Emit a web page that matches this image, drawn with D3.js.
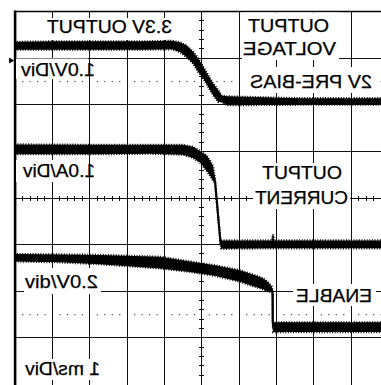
<!DOCTYPE html>
<html>
<head>
<meta charset="utf-8">
<script src="https://cdn.jsdelivr.net/npm/d3@7"></script>
<style>
    body { margin: 0; background: #fff; }
    svg { display: block; }
    .lbl { font-family: "Liberation Sans", Arial, sans-serif; font-size: 17.5px; fill: #000; stroke: #000; stroke-width: 0.25; }
</style>
</head>
<body>
<svg id="scope"></svg>
<script>
// scope capture is mirrored left/right: time runs from right to left on screen

// CH1 output voltage (V), 1.0V/Div - upper / lower edge of the noisy trace
var vOutTime = [0, 2.37, 4.325, 4.467, 4.558, 4.692, 4.826, 4.96, 5.094, 5.228, 5.404, 5.584, 5.798, 6.655, 7.726, 8.797, 10];
var vOutHi   = [2.14, 2.14, 2.18, 2.20, 2.31, 2.45, 2.63, 2.81, 2.99, 3.13, 3.27, 3.34, 3.37, 3.36, 3.36, 3.36, 3.35];
var vOutLo   = [2.00, 2.00, 1.99, 2.06, 2.06, 2.20, 2.38, 2.56, 2.70, 2.88, 3.02, 3.13, 3.19, 3.18, 3.18, 3.18, 3.18];

// CH2 output current (A), 1.0A/Div
var iOutTime = [0, 3.04, 3.066, 3.093, 3.12, 4.432, 4.486, 4.499, 4.647, 4.70, 4.78, 4.869, 5.048, 5.236, 5.504, 6.388, 7.726, 10];
var iOutHi   = [0.11, 0.11, 0.11, 0.24, 0.11, 0.11, 0.11, 0.09, 1.43, 1.71, 1.82, 1.93, 2.03, 2.12, 2.16, 2.16, 2.16, 2.17];
var iOutLo   = [-0.06, -0.06, -0.06, -0.06, -0.06, -0.07, -0.06, 0.04, 1.35, 1.39, 1.50, 1.60, 1.78, 1.88, 1.95, 1.97, 1.96, 1.96];

// CH3 enable (V), 2.0V/div
var enTime = [0, 3.088, 3.099, 3.104, 3.133, 3.227, 3.361, 3.575, 3.977, 4.647, 5.316, 6.119, 7.726, 8.797, 10];
var enHi   = [0.21, 0.21, 0.26, 1.58, 1.75, 1.93, 2.10, 2.23, 2.44, 2.65, 2.82, 3.02, 3.10, 3.12, 3.14];
var enLo   = [-0.21, -0.21, 0.17, 1.46, 1.50, 1.52, 1.63, 1.73, 1.95, 2.20, 2.37, 2.52, 2.70, 2.78, 2.82];

// channel settings: units per division and ground position (divisions from centre)
var ch1PerDiv = 1.0, ch1Pos = 0;
var ch2PerDiv = 1.0, ch2Pos = -1.02;
var ch3PerDiv = 2.0, ch3Pos = -2.77;

// screen texts (drawn mirrored like the capture)
var labels = [
    {t: "3.3V OUTPUT", cx: 109.5, y: 33,  w: 125, box: [40, 18, 176, 40]},
    {t: "1.0V/Div",    cx: 58,    y: 75.5, w: 74, box: [16, 58.5, 88, 79]},
    {t: "OUTPUT",      cx: 288.5, y: 32,  w: 81,  box: [242, 12.5, 339, 60]},
    {t: "VOLTAGE",     cx: 289.5, y: 55,  w: 93,  box: null},
    {t: "2V PRE-BIAS", cx: 311,   y: 88,  w: 122, box: [246, 67, 376, 93]},
    {t: "1.0A/Div",    cx: 59,    y: 177, w: 72,  box: [16, 160, 88, 182]},
    {t: "OUTPUT",      cx: 302,   y: 179, w: 80,  box: [253, 163, 350, 209]},
    {t: "CURRENT",     cx: 301.5, y: 204, w: 93,  box: null},
    {t: "2.0V/div",    cx: 61.5,  y: 288, w: 73,  box: [24, 268, 101, 294]},
    {t: "ENABLE",      cx: 334,   y: 302, w: 76,  box: [293, 284, 376, 306]},
    {t: "1 ms/Div",    cx: 62.5,  y: 375, w: 75,  box: [20, 359, 103, 380]}
];

var width = 381, height = 385;
var plot = {left: 15.1, right: 388.5, top: 11.5, bottom: 384.5};

var svg = d3.select("#scope")
    .attr("width", width)
    .attr("height", height);

// set the ranges: 10 time divisions (reversed), 8 vertical divisions
var x = d3.scaleLinear().domain([0, 10]).range([plot.right, plot.left]);
var y = d3.scaleLinear().domain([-4, 4]).range([plot.bottom, plot.top]);

function channel(pos, perDiv) {
    return d3.scaleLinear().domain([0, perDiv]).range([y(pos), y(pos + 1)]);
}
var y1 = channel(ch1Pos, ch1PerDiv),
    y2 = channel(ch2Pos, ch2PerDiv),
    y3 = channel(ch3Pos, ch3PerDiv);

// graticule
var grid = svg.append("g").attr("stroke", "#111").attr("shape-rendering", "crispEdges");
grid.selectAll(".vl")
    .data(d3.range(1, 10))
    .enter().append("line")
    .attr("x1", function(d) { return x(d); })
    .attr("x2", function(d) { return x(d); })
    .attr("y1", plot.top).attr("y2", height);
grid.selectAll(".hl")
    .data(d3.range(-3, 4))
    .enter().append("line")
    .attr("x1", plot.left).attr("x2", width)
    .attr("y1", function(d) { return y(d); })
    .attr("y2", function(d) { return y(d); });

// minor ticks on the centre lines
var minorX = d3.range(1, 50).filter(function(k) { return k % 5; }).map(function(k) { return k / 5; });
var minorY = d3.range(-19, 20).filter(function(k) { return k % 5; }).map(function(k) { return k / 5; });
grid.selectAll(".tx")
    .data(minorX)
    .enter().append("line")
    .attr("x1", function(d) { return x(d); })
    .attr("x2", function(d) { return x(d); })
    .attr("y1", y(0) - 2.5).attr("y2", y(0) + 2.5);
grid.selectAll(".ty")
    .data(minorY)
    .enter().append("line")
    .attr("x1", x(5) - 2.5).attr("x2", x(5) + 2.5)
    .attr("y1", function(d) { return y(d); })
    .attr("y2", function(d) { return y(d); });

// dotted rise-time lines at +/-2.5 div
[2.5, -2.5].forEach(function(lv) {
    svg.append("g").selectAll("rect")
        .data(minorX)
        .enter().append("rect")
        .attr("x", function(d) { return x(d) - 0.5; })
        .attr("y", y(lv) - 0.5)
        .attr("width", 1.2).attr("height", 1.2)
        .attr("fill", "#444");
});

// frame
svg.append("line")
    .attr("x1", plot.left).attr("x2", plot.left)
    .attr("y1", plot.top - 1).attr("y2", height)
    .attr("stroke", "#000").attr("stroke-width", 2.6);
svg.append("line")
    .attr("x1", plot.left).attr("x2", width)
    .attr("y1", plot.top).attr("y2", plot.top)
    .attr("stroke", "#000").attr("stroke-width", 1.6);

// channel marker
svg.append("path")
    .attr("d", "M" + (plot.left - 6) + ",57.5L" + (plot.left - 1) + ",60.5L" + (plot.left - 6) + ",63.5Z")
    .attr("fill", "#000");

// label backgrounds + mirrored texts
svg.selectAll(".box")
    .data(labels.filter(function(d) { return d.box; }))
    .enter().append("rect")
    .attr("x", function(d) { return d.box[0]; })
    .attr("y", function(d) { return d.box[1]; })
    .attr("width", function(d) { return d.box[2] - d.box[0]; })
    .attr("height", function(d) { return d.box[3] - d.box[1]; })
    .attr("fill", "#fff");

svg.selectAll(".lbl")
    .data(labels)
    .enter().append("text")
    .attr("class", "lbl")
    .attr("transform", function(d) { return "translate(" + d.cx + "," + d.y + ") scale(-1,1)"; })
    .attr("text-anchor", "middle")
    .attr("textLength", function(d) { return d.w; })
    .attr("lengthAdjust", "spacingAndGlyphs")
    .text(function(d) { return d.t; });

// traces: filled band between edges, speckled outline for the noise,
// plus a thin centre line for the steep edges
function trace(time, hi, lo, ys) {
    var pts = time.map(function(t, i) { return {t: t, hi: hi[i], lo: lo[i]}; });
    var area = d3.area()
        .x(function(d) { return x(d.t); })
        .y0(function(d) { return ys(d.lo); })
        .y1(function(d) { return ys(d.hi); });
    var mid = d3.line()
        .x(function(d) { return x(d.t); })
        .y(function(d) { return ys((d.hi + d.lo) / 2); });
    svg.append("path").datum(pts).attr("d", area)
        .attr("fill", "#000")
        .attr("stroke", "#000").attr("stroke-width", 2.2)
        .attr("stroke-dasharray", "1 1.6");
    svg.append("path").datum(pts).attr("d", mid)
        .attr("fill", "none").attr("stroke", "#000").attr("stroke-width", 2);
}

trace(vOutTime, vOutHi, vOutLo, y1);
trace(iOutTime, iOutHi, iOutLo, y2);
trace(enTime, enHi, enLo, y3);
</script>
</body>
</html>
